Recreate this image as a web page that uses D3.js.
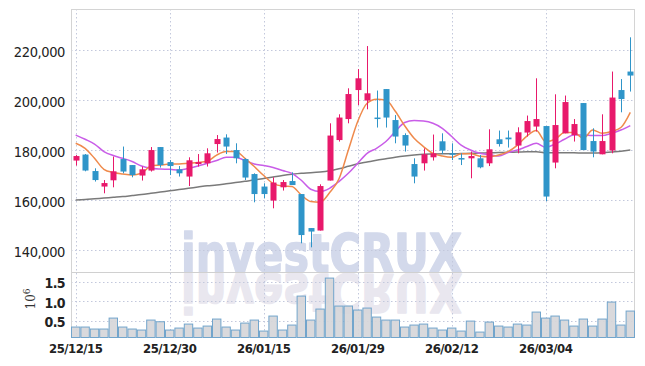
<!DOCTYPE html>
<html><head><meta charset="utf-8">
<script src="https://cdn.jsdelivr.net/npm/d3@7"></script>
<style>
html,body{margin:0;padding:0;background:#fff;}
svg{display:block;}
</style></head>
<body>
<svg id="chart" width="645" height="366"></svg>
<script>
const dates = ["25/12/15","25/12/16","25/12/17","25/12/18","25/12/19","25/12/22","25/12/23","25/12/24","25/12/26","25/12/29",
"25/12/30","26/01/02","26/01/05","26/01/06","26/01/07","26/01/08","26/01/09","26/01/12","26/01/13","26/01/14",
"26/01/15","26/01/16","26/01/19","26/01/20","26/01/21","26/01/22","26/01/23","26/01/26","26/01/27","26/01/28",
"26/01/29","26/01/30","26/02/02","26/02/03","26/02/04","26/02/05","26/02/06","26/02/09","26/02/10","26/02/11",
"26/02/12","26/02/13","26/02/19","26/02/20","26/02/23","26/02/24","26/02/25","26/02/26","26/02/27","26/03/03",
"26/03/04","26/03/05","26/03/06","26/03/09","26/03/10","26/03/11","26/03/12","26/03/13","26/03/16","26/03/17"];

const openP = [175900,178300,171700,165500,168000,176500,174100,169900,171900,181300,
175300,172400,169500,174500,174800,182500,185100,180100,176500,170500,
165500,159900,165200,167700,162500,148900,147900,167900,184100,192500,
204100,199900,193100,204500,192100,186100,174500,174800,177200,183600,
178800,176900,176800,176800,174800,184400,185100,181900,187100,189500,
189700,175100,186800,186100,198900,183700,178400,179900,204100,211500];
const highP = [178100,178500,172800,168100,177500,181500,174100,173500,181300,181300,
176100,173700,177200,178500,180800,186100,186400,182800,176800,170800,
166800,169200,168100,171200,162500,148900,166400,190800,194400,204800,
212500,221700,203900,204500,194100,186800,176800,180800,186300,186800,
182800,178800,179500,178100,188400,187900,187900,189200,193900,208800,
189700,202400,201900,192500,198900,188800,194400,211500,208500,225200];
const lowP = [173900,171600,167500,162800,165200,170800,169200,167900,171500,173100,
170100,169500,165700,173500,173500,179100,178500,174800,168100,159200,
160800,156800,163900,166100,142800,141200,147900,167900,183500,190800,
198100,196400,189100,189100,182800,179500,166800,171900,175900,178500,
176100,174100,168800,172800,173700,181500,181100,178800,185500,187500,
159700,172800,186800,183500,180100,177200,178400,178800,195200,203500];
const closeP = [177700,171900,168100,166900,171600,171500,170100,172400,180100,174100,
173700,170800,176000,175300,178800,184500,181500,176800,169100,162500,
162500,167100,167300,166100,146100,147500,165700,185900,193100,202500,
208800,202800,192700,193100,185500,181900,169500,178400,178800,179900,
178400,176400,177700,173200,180400,182500,184400,187200,191700,192500,
161500,190100,199300,190500,180100,179500,183700,201100,200500,209900];

const ma5 = [182800,180800,176800,172400,171100,170500,170100,170800,173700,174100,
174500,174500,174800,175100,175600,178100,179500,179500,176800,173500,
169900,166800,165700,165500,162100,159500,159200,163000,168500,180000,
191500,198800,200400,200100,195600,189800,184800,181500,178800,177700,
177200,178600,178600,177600,177400,178100,179500,182100,185700,187900,
183500,184400,187100,187100,184800,188100,186800,187500,189100,195200];
const ma10 = [186100,184400,182500,179500,177900,176800,175500,173700,172800,172500,
172400,172100,172800,173700,174800,175900,177200,177200,175900,174500,
173900,173100,171900,170800,168000,164400,163500,164800,167500,170800,
174800,178800,180800,183500,187500,191100,191900,191700,190800,188800,
185500,182100,180100,178800,178300,177700,179100,180100,181500,182800,
181200,182500,184400,186100,186100,185900,185900,186800,188100,189900];
const maLong = [160100,160300,160600,160900,161200,161500,161900,162300,162800,163300,
163800,164300,164800,165300,165800,166100,166600,167100,167600,168100,
168700,169300,169900,170400,170800,171000,171300,171800,172600,173600,
174600,175300,176000,176600,177200,177700,178100,178400,178500,178600,
178600,178700,178800,178900,179000,179100,179200,179300,179400,179400,
179000,179000,179000,179000,178900,178900,179000,179300,179600,180100];

const volume = [338000,338000,287000,287000,568000,338000,287000,261000,517000,474000,
261000,312000,414000,312000,363000,543000,338000,261000,440000,517000,
235000,620000,261000,389000,1132000,517000,799000,1594000,876000,876000,
774000,825000,594000,517000,517000,338000,389000,414000,312000,261000,
312000,235000,491000,209000,466000,363000,338000,414000,389000,722000,
568000,620000,517000,363000,543000,363000,543000,979000,389000,748000];

const priceTicks = [140000,160000,180000,200000,220000];
const volTicks = [500000,1000000,1500000];
const dateTickLabels = ["25/12/15","25/12/30","26/01/15","26/01/29","26/02/12","26/03/04"];

const svg = d3.select("#chart");
const L = 71, R = 635, T = 9, PB = 272, VB = 337.5;
const upColor = "#e8196b", downColor = "#2f95c9";
const gridColor = "#c3c8dc";
const numFont = "'Liberation Sans Narrow','DejaVu Sans Condensed','Arial Narrow',sans-serif";

const x = d3.scaleBand().domain(dates).range([L, R]).paddingInner(0).paddingOuter(0);
const yP = d3.scaleLinear().domain([131320, 236520]).range([PB, T]);
const yV = d3.scaleLinear().domain([70000, 1750000]).range([VB, PB]);
const cx = d => x(d) + x.bandwidth() / 2;

// watermark (behind everything)
const wmFont = "'DejaVu Sans',sans-serif";
const wm = svg.append("g").style("pointer-events", "none");
wm.append("text").attr("x", 181).attr("y", 271.5).text("investCRUX")
  .attr("font-family", wmFont).attr("font-weight", "bold").attr("font-size", 54)
  .attr("textLength", 281).attr("lengthAdjust", "spacingAndGlyphs")
  .attr("fill", "#d3d9eb").attr("stroke", "#d3d9eb").attr("stroke-width", 1.6).attr("stroke-linejoin", "round");
wm.append("g").attr("transform", "translate(0,545) scale(1,-1)")
  .append("text").attr("x", 181).attr("y", 271.5).text("investCRUX")
  .attr("font-family", wmFont).attr("font-weight", "bold").attr("font-size", 54)
  .attr("textLength", 281).attr("lengthAdjust", "spacingAndGlyphs")
  .attr("fill", "#e9e7ef").attr("stroke", "#e9e7ef").attr("stroke-width", 1.6).attr("stroke-linejoin", "round");

// grid
const grid = svg.append("g");
grid.selectAll(".hp").data(priceTicks).join("line")
  .attr("x1", L).attr("x2", R).attr("y1", d => Math.round(yP(d)) + 0.5).attr("y2", d => Math.round(yP(d)) + 0.5)
  .attr("stroke", gridColor).attr("stroke-dasharray", "1.5,2.5");
grid.selectAll(".hv").data(volTicks).join("line")
  .attr("x1", L).attr("x2", R).attr("y1", d => Math.round(yV(d)) + 0.5).attr("y2", d => Math.round(yV(d)) + 0.5)
  .attr("stroke", gridColor).attr("stroke-dasharray", "1.5,2.5");
grid.selectAll(".vv").data(dateTickLabels).join("line")
  .attr("x1", d => Math.round(cx(d)) + 0.5).attr("x2", d => Math.round(cx(d)) + 0.5)
  .attr("y1", T).attr("y2", VB)
  .attr("stroke", gridColor).attr("stroke-dasharray", "1.5,2.5");

// borders
svg.append("rect").attr("x", L + 0.5).attr("y", T + 0.5).attr("width", R - L - 1).attr("height", PB - T)
  .attr("fill", "none").attr("stroke", "#d4d4d4");
svg.append("line").attr("x1", L).attr("x2", R).attr("y1", PB + 0.5).attr("y2", PB + 0.5).attr("stroke", "#d0d0d0");
svg.append("line").attr("x1", L + 0.5).attr("x2", L + 0.5).attr("y1", PB).attr("y2", VB).attr("stroke", "#d4d4d4");
svg.append("line").attr("x1", R - 0.5).attr("x2", R - 0.5).attr("y1", PB).attr("y2", VB).attr("stroke", "#d4d4d4");

// volume bars
svg.append("g").selectAll("rect").data(dates).join("rect")
  .attr("x", d => x(d) + 0.5)
  .attr("width", x.bandwidth() - 1)
  .attr("y", (d, i) => yV(volume[i]))
  .attr("height", (d, i) => VB - yV(volume[i]))
  .attr("fill", "#d6d6d9").attr("fill-opacity", 0.92).attr("stroke", "#72a5cc").attr("stroke-width", 1);

// moving average lines
const lineGen = arr => d3.line().x((d, i) => cx(dates[i])).y(d => yP(d)).curve(d3.curveMonotoneX)(arr);
svg.append("path").attr("d", lineGen(maLong)).attr("fill", "none").attr("stroke", "#7a7a7a").attr("stroke-width", 1.5);
svg.append("path").attr("d", lineGen(ma10)).attr("fill", "none").attr("stroke", "#c95de8").attr("stroke-width", 1.5);
svg.append("path").attr("d", lineGen(ma5)).attr("fill", "none").attr("stroke", "#ef8a4c").attr("stroke-width", 1.5);

// candles
const candles = svg.append("g");
const bw = 6;
dates.forEach((d, i) => {
  const up = closeP[i] >= openP[i];
  const col = up ? upColor : downColor;
  const xc = Math.round(cx(d)) + 0.5;
  candles.append("line").attr("x1", xc).attr("x2", xc)
    .attr("y1", yP(highP[i])).attr("y2", yP(lowP[i])).attr("stroke", col).attr("stroke-width", 1);
  const top = yP(Math.max(openP[i], closeP[i])), bot = yP(Math.min(openP[i], closeP[i]));
  candles.append("rect").attr("x", xc - bw / 2).attr("width", bw)
    .attr("y", top).attr("height", Math.max(1.5, bot - top)).attr("fill", col);
});

// axes
const yAxis = d3.axisLeft(yP).tickValues(priceTicks).tickSize(0).tickPadding(6).tickFormat(d3.format(","));
const gy = svg.append("g").attr("transform", `translate(${L},0)`).call(yAxis);
gy.select(".domain").remove();
gy.selectAll("text").attr("font-family", numFont).attr("font-size", 14.5).attr("fill", "#222")
  .attr("letter-spacing", -0.4).attr("dy", "0.45em");

const vAxis = d3.axisLeft(yV).tickValues(volTicks).tickSize(0).tickPadding(6).tickFormat(d => d3.format(".1f")(d / 1e6));
const gv = svg.append("g").attr("transform", `translate(${L},0)`).call(vAxis);
gv.select(".domain").remove();
gv.selectAll("text").attr("font-family", numFont).attr("font-size", 14).attr("font-weight", "bold").attr("fill", "#222")
  .attr("letter-spacing", -0.6).attr("dy", "0.42em");

const xAxis = d3.axisBottom(x).tickValues(dateTickLabels).tickSize(0).tickPadding(6);
const gx = svg.append("g").attr("transform", `translate(0,${VB})`).call(xAxis);
gx.select(".domain").remove();
gx.selectAll("text").attr("font-family", numFont).attr("font-size", 13).attr("font-weight", "bold").attr("fill", "#222")
  .attr("letter-spacing", -0.5);

// 10^6 label
const ul = svg.append("text").attr("transform", "translate(35,299) rotate(-90)")
  .attr("text-anchor", "middle").attr("font-family", "'DejaVu Serif',serif").attr("font-size", 12).attr("fill", "#333");
ul.append("tspan").text("10");
ul.append("tspan").attr("dy", -5).attr("font-size", 9).text("6");
</script>
</body></html>
